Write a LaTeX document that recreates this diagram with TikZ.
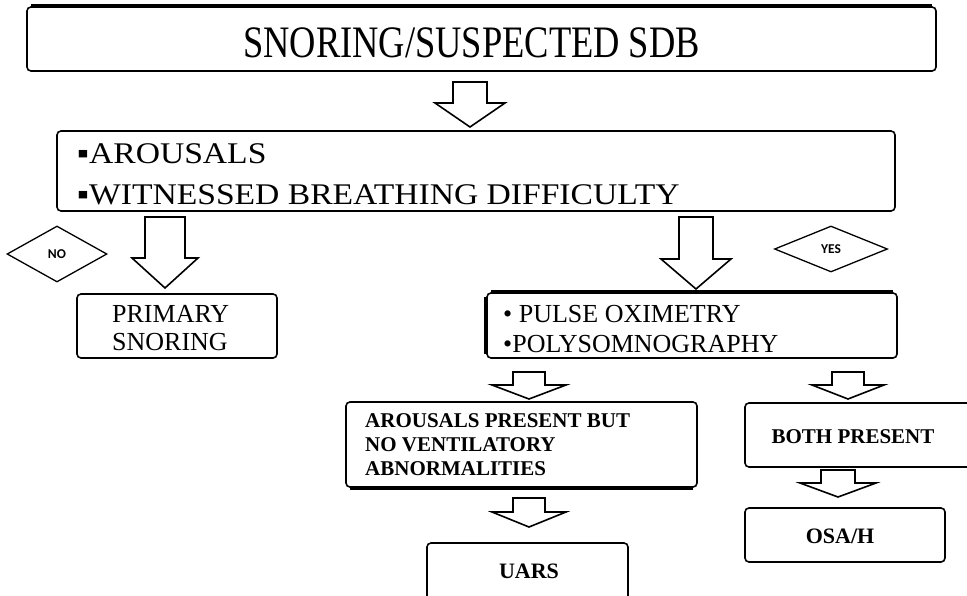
\documentclass[tikz,border=0pt]{standalone}
\usepackage{fontspec}
\usepackage{graphicx}
\setmainfont{Liberation Serif}
\newfontfamily\tagfont{Carlito}
\usetikzlibrary{shapes.geometric}

\begin{document}
\begin{tikzpicture}[x=1pt,y=-1pt,
		box/.style = {draw,rounded corners=4pt,line width=1.6pt,inner sep=0pt},
		edge/.style = {line width=3.5pt},
		tag/.style = {diamond,draw,line width=1.3pt,inner sep=0pt,font=\tagfont\bfseries\fontsize{13.5}{15}\selectfont},
		hollow/.style = {draw,line width=1.6pt,fill=white,line join=miter},
		txt/.style = {inner sep=0pt,anchor=base west},
		big/.style = {txt,font=\fontsize{30}{34}\selectfont},
		mid/.style = {txt,font=\fontsize{26}{30}\selectfont},
		bold/.style = {inner sep=0pt,font=\bfseries\fontsize{21}{24}\selectfont}]
	\useasboundingbox (0,0) rectangle (967,595);
	\clip (0,0) rectangle (967,595);
	% boxes
	\node (title) at (481.5,39) [box,minimum width=909pt,minimum height=64pt] {};
	\node (cond) at (476,171) [box,minimum width=838pt,minimum height=80pt] {};
	\node (prim) at (177,326) [box,minimum width=200pt,minimum height=64pt] {};
	\node (tests) at (692,325.5) [box,minimum width=410pt,minimum height=65pt] {};
	\node (arous) at (521.5,444.5) [box,minimum width=351pt,minimum height=85pt] {};
	\node (uars) at (527.5,579) [box,minimum width=201pt,minimum height=72pt] {};
	\node (both) at (865,435) [box,minimum width=240pt,minimum height=64pt] {};
	\node (osah) at (845,535) [box,minimum width=200pt,minimum height=54pt] {};
	\draw [edge] ([xshift=5pt]title.north west) -- ([xshift=-5pt]title.north east);
	\draw [edge] ([xshift=5pt]tests.north west) -- ([xshift=-5pt]tests.north east);
	\draw [edge] ([yshift=-5pt]tests.north west) -- ([yshift=5pt]tests.south west);
	\draw [edge] ([xshift=5pt]arous.south west) -- ([xshift=-5pt]arous.south east);
	% texts
	\node (titletext) at (243,57) [txt,font=\fontsize{45}{50}\selectfont] {\scalebox{0.81}[1]{SNORING/SUSPECTED SDB}};
	\node (c1) at (77,163) [big] {\scalebox{1.12}[1]{▪AROUSALS}};
	\node (c2) at (77,204) [big] {\scalebox{1.12}[1]{▪WITNESSED BREATHING DIFFICULTY}};
	\node (p1) at (112,322) [mid] {PRIMARY};
	\node (p2) at (112,350) [mid] {SNORING};
	\node (t1) at (503,322) [mid] {• PULSE OXIMETRY};
	\node (t2) at (503,352) [mid] {•POLYSOMNOGRAPHY};
	\node (a1) at (365,427) [bold,anchor=base west] {AROUSALS PRESENT BUT};
	\node (a2) at (365,451) [bold,anchor=base west] {NO VENTILATORY};
	\node (a3) at (365,475) [bold,anchor=base west] {ABNORMALITIES};
	\node (u1) at (529,578) [bold,anchor=base,font=\bfseries\fontsize{22}{24}\selectfont] {UARS};
	\node (b1) at (853,443) [bold,anchor=base] {BOTH PRESENT};
	\node (o1) at (840,543) [bold,anchor=base,font=\bfseries\fontsize{22}{24}\selectfont] {OSA/H};
	\node (no) at (57,254) [tag,minimum width=100pt,minimum height=56pt] {NO};
	\node (yes) at (831,249) [tag,minimum width=113pt,minimum height=46pt] {YES};
	% block arrows
	\coordinate (r1) at (470,82);
	\coordinate (r2) at (165,217);
	\coordinate (r3) at (696,217);
	\coordinate (r4) at (529,372);
	\coordinate (r5) at (529,498);
	\coordinate (r6) at (848,372);
	\coordinate (r7) at (838,470);
	\draw [hollow] (r1) ++(-17,0) -- ++(34,0) -- ++(0,21) -- ++(18,0) -- ++(-35,24) -- ++(-35,-24) -- ++(18,0) -- cycle;
	\draw [hollow] (r2) ++(-20,0) -- ++(40,0) -- ++(0,41) -- ++(13,0) -- ++(-33,30) -- ++(-33,-30) -- ++(13,0) -- cycle;
	\draw [hollow] (r3) ++(-17,0) -- ++(34,0) -- ++(0,42) -- ++(18,0) -- ++(-35,30) -- ++(-35,-30) -- ++(18,0) -- cycle;
	\draw [hollow] (r4) ++(-16,0) -- ++(32,0) -- ++(0,13) -- ++(21,0) -- ++(-37,14) -- ++(-37,-14) -- ++(21,0) -- cycle;
	\draw [hollow] (r5) ++(-16,0) -- ++(32,0) -- ++(0,14) -- ++(21,0) -- ++(-37,15) -- ++(-37,-15) -- ++(21,0) -- cycle;
	\draw [hollow] (r6) ++(-16,0) -- ++(32,0) -- ++(0,13) -- ++(20,0) -- ++(-36,14) -- ++(-36,-14) -- ++(20,0) -- cycle;
	\draw [hollow] (r7) ++(-17,0) -- ++(34,0) -- ++(0,13) -- ++(21,0) -- ++(-38,14) -- ++(-38,-14) -- ++(21,0) -- cycle;
\end{tikzpicture}
\end{document}
